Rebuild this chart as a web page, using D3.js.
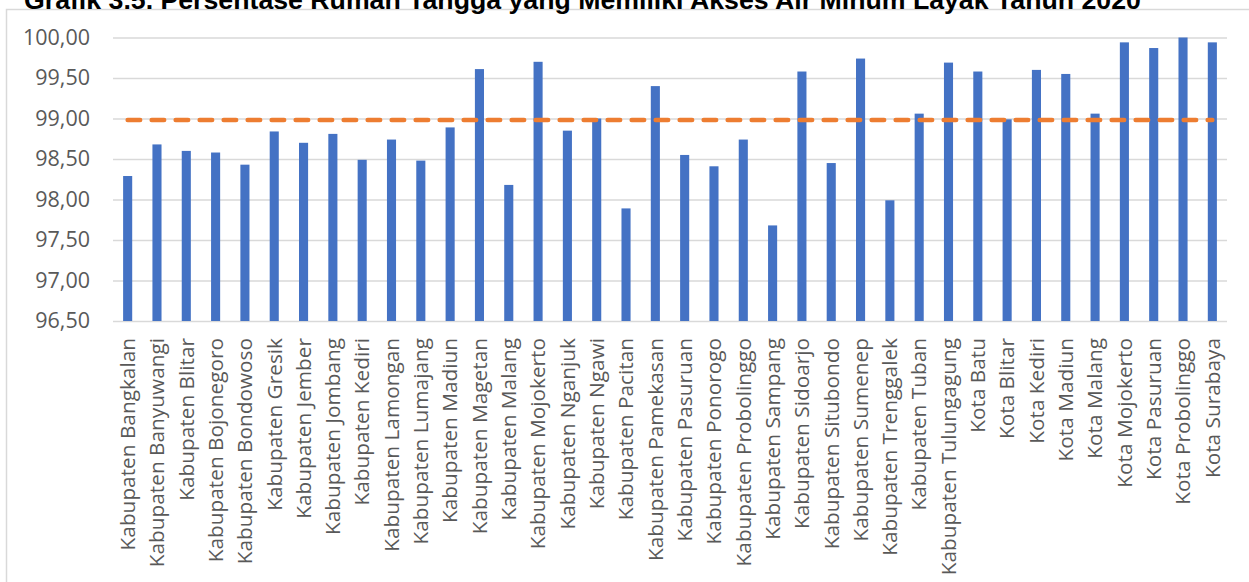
<!DOCTYPE html>
<html>
<head>
<meta charset="utf-8">
<script src="https://cdn.jsdelivr.net/npm/d3@7"></script>
<style>
  html, body { margin: 0; padding: 0; background: #ffffff; }
  svg { display: block; }
</style>
</head>
<body>
<svg id="chart" width="1249" height="582"></svg>
<script>
// Regions of East Java (kabupaten / kota)
const regions = [
  "Kabupaten Bangkalan", "Kabupaten Banyuwangi", "Kabupaten Blitar", "Kabupaten Bojonegoro",
  "Kabupaten Bondowoso", "Kabupaten Gresik", "Kabupaten Jember", "Kabupaten Jombang",
  "Kabupaten Kediri", "Kabupaten Lamongan", "Kabupaten Lumajang", "Kabupaten Madiun",
  "Kabupaten Magetan", "Kabupaten Malang", "Kabupaten Mojokerto", "Kabupaten Nganjuk",
  "Kabupaten Ngawi", "Kabupaten Pacitan", "Kabupaten Pamekasan", "Kabupaten Pasuruan",
  "Kabupaten Ponorogo", "Kabupaten Probolinggo", "Kabupaten Sampang", "Kabupaten Sidoarjo",
  "Kabupaten Situbondo", "Kabupaten Sumenep", "Kabupaten Trenggalek", "Kabupaten Tuban",
  "Kabupaten Tulungagung", "Kota Batu", "Kota Blitar", "Kota Kediri", "Kota Madiun",
  "Kota Malang", "Kota Mojokerto", "Kota Pasuruan", "Kota Probolinggo", "Kota Surabaya"
];

// Share of households with access to safe drinking water (%)
const accessPct = [
  98.29, 98.68, 98.60, 98.58, 98.43, 98.84, 98.70, 98.81,
  98.49, 98.74, 98.48, 98.89, 99.61, 98.18, 99.70, 98.85,
  99.00, 97.89, 99.40, 98.55, 98.41, 98.74, 97.68, 99.58,
  98.45, 99.74, 97.99, 99.06, 99.69, 99.58, 98.99, 99.60, 99.55,
  99.06, 99.94, 99.87, 100.00, 99.94
];

// Provincial reference level (%)
const provinceLevel = 98.98;

const yTicks = [96.5, 97.0, 97.5, 98.0, 98.5, 99.0, 99.5, 100.0];
const yDomain = [96.5, 100.0];

const titleText = "Grafik 3.5. Persentase Rumah Tangga yang Memiliki Akses Air Minum Layak Tahun 2020";

const svg = d3.select("#chart");
const plot = { left: 113, right: 1227, top: 37.5, bottom: 321 };

// outer frame of the chart area
svg.append("rect")
  .attr("x", 6.5).attr("y", 9.5)
  .attr("width", 1260).attr("height", 600)
  .attr("fill", "none")
  .attr("stroke", "#d9d9d9")
  .attr("stroke-width", 1.5);

// title (sits above the frame)
svg.append("text")
  .attr("x", 24).attr("y", 9)
  .attr("font-family", "'Liberation Sans', Arial, sans-serif")
  .attr("font-weight", "bold")
  .attr("font-size", 26.7)
  .attr("fill", "#000")
  .text(titleText);

const x = d3.scaleBand()
  .domain(regions)
  .range([plot.left, plot.right])
  .paddingInner(0.69)
  .paddingOuter(0.345);

const y = d3.scaleLinear().domain(yDomain).range([plot.bottom, plot.top]);

const fmt = v => d3.format(".2f")(v).replace(".", ",");

// horizontal gridlines + y labels
const yAxis = d3.axisLeft(y)
  .tickValues(yTicks)
  .tickSize(-(plot.right - plot.left))
  .tickPadding(23)
  .tickFormat(fmt);

const gy = svg.append("g")
  .attr("transform", `translate(${plot.left},0)`)
  .call(yAxis);
gy.select(".domain").remove();
gy.selectAll(".tick line")
  .attr("stroke", "#d9d9d9")
  .attr("stroke-width", 1.5);
gy.selectAll(".tick text")
  .attr("font-family", "'Open Sans', sans-serif")
  .attr("font-size", 21.5)
  .attr("fill", "#595959");

// bars
svg.append("g")
  .selectAll("rect")
  .data(regions.map((r, i) => ({ r, v: accessPct[i] })))
  .join("rect")
  .attr("x", d => x(d.r))
  .attr("width", x.bandwidth())
  .attr("y", d => y(d.v))
  .attr("height", d => y(yDomain[0]) - y(d.v))
  .attr("fill", "#4472c4");

// category axis labels
const xAxis = d3.axisBottom(x).tickSize(0).tickPadding(0);
const gx = svg.append("g")
  .attr("transform", `translate(0,${plot.bottom})`)
  .call(xAxis);
gx.select(".domain").remove();
gx.selectAll(".tick text")
  .attr("font-family", "'Open Sans', sans-serif")
  .attr("font-size", 20.8)
  .attr("fill", "#595959")
  .attr("text-anchor", "end")
  .attr("transform", "translate(0,17) rotate(-90)")
  .attr("x", 0)
  .attr("y", 0)
  .attr("dy", "0.35em");

// provincial reference line
const first = regions[0], last = regions[regions.length - 1];
svg.append("line")
  .attr("x1", x(first) + x.bandwidth() / 2)
  .attr("x2", x(last) + x.bandwidth() / 2)
  .attr("y1", y(provinceLevel))
  .attr("y2", y(provinceLevel))
  .attr("stroke", "#ed7d31")
  .attr("stroke-width", 4.5)
  .attr("stroke-linecap", "round")
  .attr("stroke-dasharray", "12.5 11.5");
</script>
</body>
</html>
